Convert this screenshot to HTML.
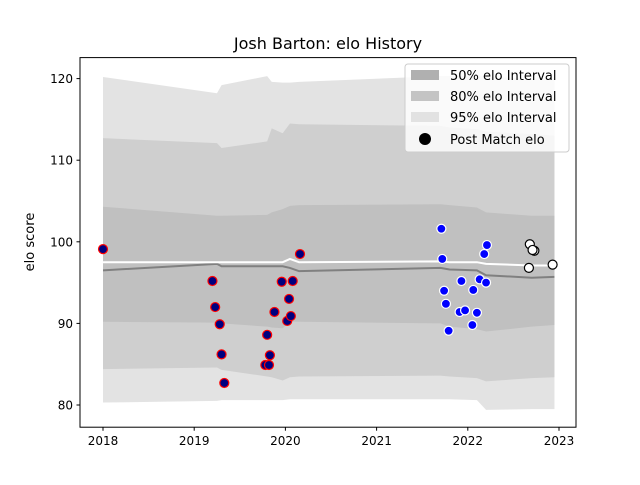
<!DOCTYPE html>
<html><head><meta charset="utf-8"><style>
body{margin:0;background:#fff;font-family:"Liberation Sans","DejaVu Sans",sans-serif}
svg text{font-family:"DejaVu Sans","Liberation Sans",sans-serif}
</style></head><body>
<svg id="chart" width="640" height="480" xmlns="http://www.w3.org/2000/svg">
<rect width="640" height="480" fill="#fff"/>
<text x="328" y="49" font-size="16" text-anchor="middle">Josh Barton: elo History</text>
<g id="bands"></g><g id="lines"></g><g id="points"></g>
<rect x="80" y="57.6" width="496" height="369.6" fill="none" stroke="#000" stroke-width="1"/>
<g id="axes"></g>
<text transform="translate(34,242) rotate(-90)" font-size="13" text-anchor="middle">elo score</text>
<g>
<rect x="405" y="64" width="164" height="88" rx="3" fill="#fff" fill-opacity="0.8" stroke="#ccc"/>
<rect x="411" y="70" width="28" height="10" fill="#b0b0b0"/>
<text x="450" y="80" font-size="13">50% elo Interval</text>
<rect x="411" y="91" width="28" height="10" fill="#c4c4c4"/>
<text x="450" y="101" font-size="13">80% elo Interval</text>
<rect x="411" y="112" width="28" height="10" fill="#e2e2e2"/>
<text x="450" y="122" font-size="13">95% elo Interval</text>
<circle cx="425" cy="139" r="6" fill="#000"/>
<text x="450" y="144" font-size="13">Post Match elo</text>
</g>
</svg>
<script>
const dates=[2018.0,2019.25,2019.3,2019.8,2019.85,2019.97,2020.05,2020.15,2021.7,2021.8,2022.1,2022.2,2022.7,2022.95];
const median=[97.5,97.5,97.5,97.5,97.5,97.5,97.9,97.5,97.6,97.5,97.5,97.3,97.1,97.1];
const meanLine=[96.5,97.3,97.0,97.0,97.0,97.0,96.8,96.4,96.8,96.6,96.5,95.9,95.6,95.7];
const up50=[104.3,103.2,103.2,103.3,103.6,104.0,104.4,104.5,104.6,104.5,104.2,103.6,103.2,103.2];
const lo50=[90.2,90.1,90.0,89.6,89.5,89.4,90.2,90.2,90.0,89.6,89.3,89.0,89.6,89.8];
const up80=[112.7,112.1,111.5,112.3,113.9,113.3,114.5,114.4,114.2,114.0,113.8,113.5,113.2,113.0];
const lo80=[84.4,84.6,84.3,83.5,83.4,83.0,83.4,83.5,83.6,83.5,83.3,82.9,83.3,83.4];
const up95=[120.2,118.2,119.2,120.3,119.6,119.5,119.5,119.6,120.3,120.3,120.4,120.2,120.0,120.0];
const lo95=[80.3,80.5,80.6,80.6,80.6,80.6,80.7,80.7,80.7,80.7,80.6,79.4,79.5,79.5];
const redX=[2018.0,2019.2,2019.23,2019.28,2019.3,2019.33,2019.78,2019.82,2019.8,2019.83,2019.88,2019.96,2020.02,2020.06,2020.04,2020.08,2020.16];
const redY=[99.1,95.2,92.0,89.9,86.2,82.7,84.9,84.9,88.6,86.1,91.4,95.1,90.3,90.9,93.0,95.2,98.5];
const blueX=[2021.71,2021.72,2022.21,2022.18,2021.93,2021.74,2022.06,2022.13,2022.2,2021.76,2021.91,2021.97,2022.1,2022.05,2021.79];
const blueY=[101.6,97.9,99.6,98.5,95.2,94.0,94.1,95.4,95.0,92.4,91.4,91.6,91.3,89.8,89.1];
const whiteX=[2022.68,2022.73,2022.71,2022.67,2022.93];
const whiteY=[99.7,98.9,99.0,96.8,97.2];
const xTicks=[2018,2019,2020,2021,2022,2023];
const yTicks=[80,90,100,110,120];
const NS='http://www.w3.org/2000/svg';
function sx(v){return 103+(v-2018)*91.2;}
function sy(v){return 405-(v-80)*8.16;}
function mk(tag,attrs,parent){const e=document.createElementNS(NS,tag);for(const k in attrs)e.setAttribute(k,attrs[k]);document.getElementById(parent).appendChild(e);return e;}
function band(up,lo){let d='M'+dates.map((t,i)=>sx(t)+','+sy(up[i])).join('L');for(let i=dates.length-1;i>=0;i--)d+='L'+sx(dates[i])+','+sy(lo[i]);return d+'Z';}
let b=mk('path',{d:band(up95,lo95),fill:'#e3e3e3'},'bands');


b=mk('path',{d:band(up80,lo80),fill:'#cfcfcf'},'bands');


b=mk('path',{d:band(up50,lo50),fill:'#c0c0c0'},'bands');


function line(arr){return 'M'+dates.map((t,i)=>sx(t)+','+sy(arr[i])).join('L');}
let l=mk('path',{d:line(meanLine),fill:'none',stroke:'#808080','stroke-width':2},'lines');


l=mk('path',{d:line(median),fill:'none',stroke:'#fff','stroke-width':2},'lines');


redX.forEach((x,i)=>{const c=mk('circle',{cx:sx(x),cy:sy(redY[i]),r:4.5,fill:'#00007f',stroke:'#f00','stroke-width':1.2},'points');

});
blueX.forEach((x,i)=>{const c=mk('circle',{cx:sx(x),cy:sy(blueY[i]),r:4.5,fill:'#0000ff',stroke:'#fff','stroke-width':1.2},'points');

});
whiteX.forEach((x,i)=>{const c=mk('circle',{cx:sx(x),cy:sy(whiteY[i]),r:4.5,fill:'#fff',stroke:'#000','stroke-width':1.2},'points');

});
xTicks.forEach(t=>{const x=sx(t);mk('line',{x1:x,x2:x,y1:427.2,y2:430.7,stroke:'#000'},'axes');
const tx=mk('text',{x:x,y:445,'font-size':12,'text-anchor':'middle'},'axes');tx.textContent=t;

});
yTicks.forEach(t=>{const y=sy(t);mk('line',{x1:76.5,x2:80,y1:y,y2:y,stroke:'#000'},'axes');
const tx=mk('text',{x:73,y:y+4.5,'font-size':12,'text-anchor':'end'},'axes');tx.textContent=t;

});
</script>
</body></html>
